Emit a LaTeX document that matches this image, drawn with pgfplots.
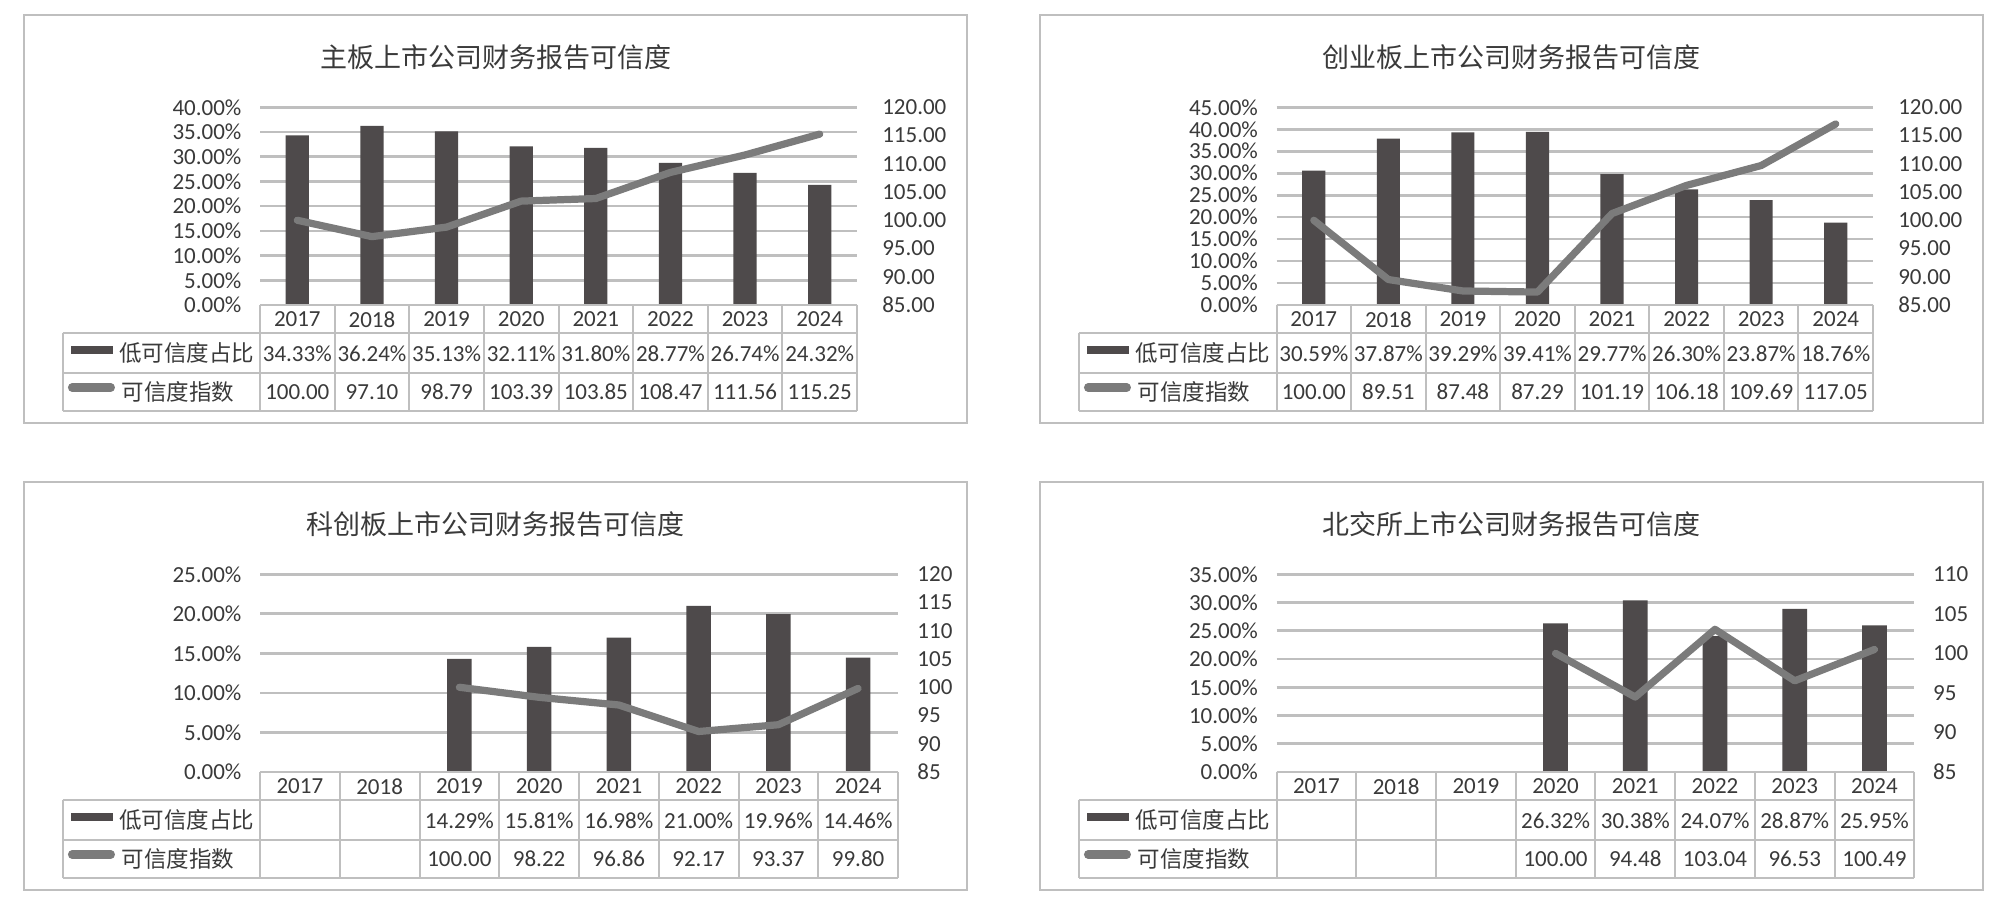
\documentclass[border=0pt]{standalone}
\usepackage{pgfplots}
\pgfplotsset{compat=1.18}
\usepackage{pgfplotstable}
\usepackage{fontspec}
\setmainfont{Carlito}
\newfontfamily\cjk{Noto Sans CJK SC}
\definecolor{barc}{HTML}{4E4A4B}
\definecolor{lnc}{HTML}{7B7B7B}
\definecolor{grd}{HTML}{BFBFBF}
\definecolor{txt}{HTML}{3A3A3A}
\def\S{0.36}
\pgfkeys{/pgf/number format/assume math mode=true}

\pgfplotstableread{
x low idx
0 34.33 100.00
1 36.24 97.10
2 35.13 98.79
3 32.11 103.39
4 31.80 103.85
5 28.77 108.47
6 26.74 111.56
7 24.32 115.25
}\dataA
\pgfplotstableread{
x low idx
0 30.59 100.00
1 37.87 89.51
2 39.29 87.48
3 39.41 87.29
4 29.77 101.19
5 26.30 106.18
6 23.87 109.69
7 18.76 117.05
}\dataB
\pgfplotstableread{
x low idx
2 14.29 100.00
3 15.81 98.22
4 16.98 96.86
5 21.00 92.17
6 19.96 93.37
7 14.46 99.80
}\dataC
\pgfplotstableread{
x low idx
3 26.32 100.00
4 30.38 94.48
5 24.07 103.04
6 28.87 96.53
7 25.95 100.49
}\dataD

\pgfplotsset{
  base/.style={scale only axis, anchor=south west, height=71.17pt,
    xmin=-0.5, xmax=7.5, xtick=\empty, axis line style={draw=none},
    major tick length=0pt, ytick style={draw=none},
    ticklabel style={font=\fontsize{8.28pt}{10pt}\selectfont, text=txt, inner sep=0pt},
    ytick distance=5},
  barax/.style={base, ymin=0, ymajorgrids, major grid style={grd, line width=0.97pt},
    ybar, bar width=0.31,
    yticklabel={\pgfmathprintnumber[fixed,fixed zerofill,precision=2]{\tick}\%},
    yticklabel shift=6.5pt},
  lineax/.style={base, ymin=85, yticklabel pos=right},
}

\newcommand\drawtable[5]{%
\begin{scope}[x=\S pt, y=-\S pt, every node/.style={inner sep=0pt, text=txt, font=\fontsize{8.28pt}{10pt}\selectfont}]
 \pgfmathsetmacro\cw{(#2-#1)/8}
 \pgfmathsetmacro\ya{#3+28.3}
 \pgfmathsetmacro\yb{#3+67.7}
 \pgfmathsetmacro\yc{#3+105.7}
 \draw[grd, line width=0.72pt] (#1,#3) -- (#2,#3) (#5,\ya) -- (#2,\ya) (#5,\yb) -- (#2,\yb) (#5,\yc) -- (#2,\yc) (#5,\ya) -- (#5,\yc);
 \foreach \i in {0,...,8} \draw[grd, line width=0.72pt] ({#1+\i*\cw},#3) -- ({#1+\i*\cw},\yc);
 \foreach \i in {0,...,7} {\pgfmathtruncatemacro\yr{2017+\i}
   \node at ({#1+(\i+0.5)*\cw},{#3+14.5}) {\yr};}
 \fill[barc] ({#5+8},{#3+41}) rectangle ({#5+50},{#3+49});
 \draw[lnc, line width=3.06pt, line cap=round] ({#5+9.5},{#3+82.5}) -- ({#5+48},{#3+82.5});
 \node[anchor=west, font=\cjk\fontsize{8.1pt}{10pt}\selectfont] at ({#5+56},{#3+48}) {低可信度占比};
 \node[anchor=west, font=\cjk\fontsize{8.1pt}{10pt}\selectfont] at ({#5+58.5},{#3+87}) {可信度指数};
 \pgfplotstablegetrowsof{#4}\pgfmathtruncatemacro\nr{\pgfplotsretval-1}
 \foreach \rr in {0,...,\nr}{
   \pgfplotstablegetelem{\rr}{x}\of#4 \let\xx\pgfplotsretval
   \pgfplotstablegetelem{\rr}{low}\of#4 \let\lo\pgfplotsretval
   \pgfplotstablegetelem{\rr}{idx}\of#4 \let\id\pgfplotsretval
   \node at ({#1+(\xx+0.5)*\cw},{#3+49}) {\lo\%};
   \node at ({#1+(\xx+0.5)*\cw},{#3+87}) {\id};
 }
\end{scope}}

\begin{document}
\begin{tikzpicture}
\begin{scope}[x=\S pt, y=-\S pt]
\fill[white] (0,0) rectangle (2006,912);
\foreach \a/\b in {24/15, 1040/15, 24/482, 1040/482}
  \draw[grd, line width=0.72pt] (\a,\b) rectangle ++(943,408);
\begin{scope}[every node/.style={text=txt, font=\cjk\fontsize{9.72pt}{12pt}\selectfont, inner sep=0pt}]
\node at (495.5,57.5) {主板上市公司财务报告可信度};
\node at (1511.5,57.5) {创业板上市公司财务报告可信度};
\node at (495.5,524.5) {科创板上市公司财务报告可信度};
\node at (1511.5,524.5) {北交所上市公司财务报告可信度};
\end{scope}
\end{scope}

% Panel 1
\begin{axis}[barax, at={(93.6pt,-109.8pt)}, width=214.92pt, ymax=40]
\addplot[fill=barc, draw=none] table[x=x, y=low] {\dataA};
\end{axis}
\begin{axis}[lineax, at={(93.6pt,-109.8pt)}, width=214.92pt, ymax=120,
  yticklabel={\pgfmathprintnumber[fixed,fixed zerofill,precision=2]{\tick}}, yticklabel shift=8.9pt]
\addplot[lnc, line width=2.6pt, line join=round, line cap=round, mark=none] table[x=x, y=idx] {\dataA};
\end{axis}
\drawtable{260}{857}{305}{\dataA}{62.7}

% Panel 2
\begin{axis}[barax, at={(459.54pt,-109.8pt)}, width=214.74pt, ymax=45]
\addplot[fill=barc, draw=none] table[x=x, y=low] {\dataB};
\end{axis}
\begin{axis}[lineax, at={(459.54pt,-109.8pt)}, width=214.74pt, ymax=120,
  yticklabel={\pgfmathprintnumber[fixed,fixed zerofill,precision=2]{\tick}}, yticklabel shift=8.9pt]
\addplot[lnc, line width=2.6pt, line join=round, line cap=round, mark=none] table[x=x, y=idx] {\dataB};
\end{axis}
\drawtable{1276.5}{1873}{305}{\dataB}{1078.7}

% Panel 3
\begin{axis}[barax, at={(93.6pt,-277.92pt)}, width=229.68pt, ymax=25]
\addplot[fill=barc, draw=none] table[x=x, y=low] {\dataC};
\end{axis}
\begin{axis}[lineax, at={(93.6pt,-277.92pt)}, width=229.68pt, ymax=120,
  yticklabel={\pgfmathprintnumber[fixed,precision=0]{\tick}}, yticklabel shift=6.8pt]
\addplot[lnc, line width=2.6pt, line join=round, line cap=round, mark=none] table[x=x, y=idx] {\dataC};
\end{axis}
\drawtable{260}{898}{772}{\dataC}{62.7}

% Panel 4
\begin{axis}[barax, at={(459.54pt,-277.92pt)}, width=229.61pt, ymax=35]
\addplot[fill=barc, draw=none] table[x=x, y=low] {\dataD};
\end{axis}
\begin{axis}[lineax, at={(459.54pt,-277.92pt)}, width=229.61pt, ymax=110,
  yticklabel={\pgfmathprintnumber[fixed,precision=0]{\tick}}, yticklabel shift=6.6pt]
\addplot[lnc, line width=2.6pt, line join=round, line cap=round, mark=none] table[x=x, y=idx] {\dataD};
\end{axis}
\drawtable{1276.5}{1914.3}{772}{\dataD}{1078.7}
\end{tikzpicture}
\end{document}
